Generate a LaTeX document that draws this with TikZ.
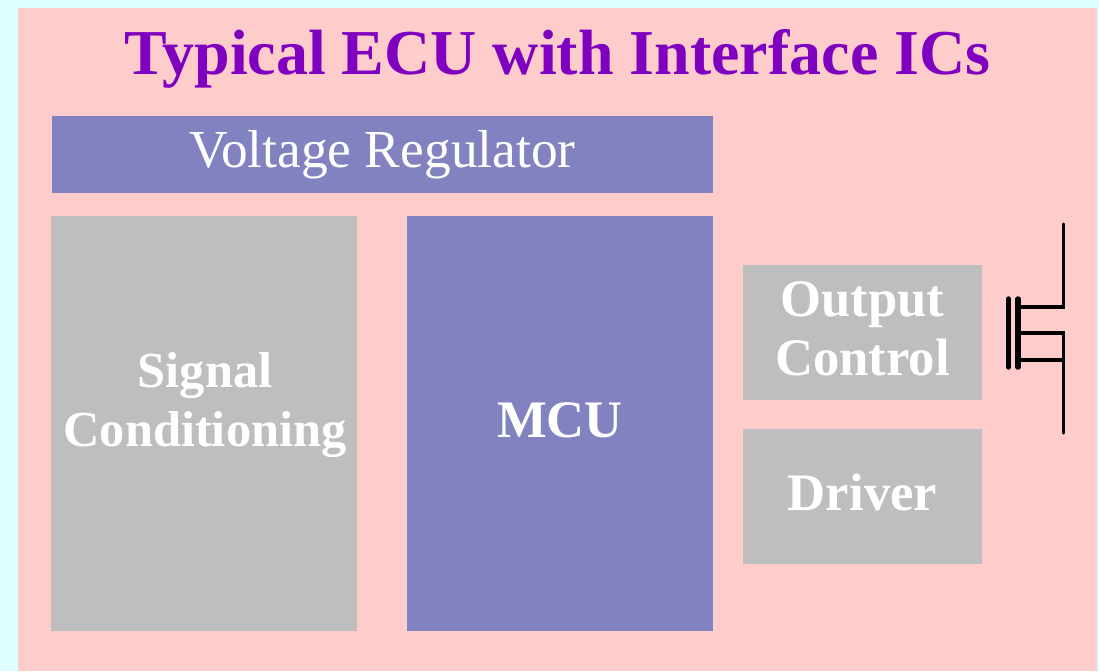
\documentclass[tikz,border=0pt]{standalone}
\usepackage{fontspec}
\setmainfont{Liberation Serif}
\usetikzlibrary{positioning}
\definecolor{pageCyan}{HTML}{DDFFFF}
\definecolor{panelPink}{HTML}{FFCCCC}
\definecolor{blockBlue}{HTML}{8282C0}
\definecolor{blockGray}{HTML}{BEBEBE}
\definecolor{titlePurple}{HTML}{7F00BF}

\begin{document}
\begin{tikzpicture}[
  block/.style={inner sep=0pt, outer sep=0pt},
  blueBlock/.style={block, fill=blockBlue},
  grayBlock/.style={block, fill=blockGray},
  blockLabel/.style={inner sep=0pt, outer sep=0pt, align=center, text=white, font=\fontsize{30}{33.6}\selectfont\bfseries},
  fetLine/.style={line width=0.066cm, draw=black, line cap=round},
  fetBar/.style={line width=0.11cm, draw=black, line cap=round}
]
\useasboundingbox (0,0) rectangle (21.98,-13.42);
\fill[pageCyan] (0,0) rectangle (21.98,-13.42);
\fill[panelPink] (0.36,-0.16) rectangle (21.94,-13.42);

\node[inner sep=0pt, text=titlePurple, font=\fontsize{36.4}{44}\selectfont\bfseries] (title) at (11.15,-1.18) {Typical ECU with Interface ICs};

\node[blueBlock, minimum width=13.22cm, minimum height=1.54cm] (regulator) at (7.65,-3.09) {};
\node[grayBlock, minimum width=6.12cm, minimum height=8.30cm] (signal) at (4.08,-8.47) {};
\node[blueBlock, minimum width=6.12cm, minimum height=8.30cm] (mcu) at (11.20,-8.47) {};
\node[grayBlock, minimum width=4.78cm, minimum height=2.70cm] (output) at (17.25,-6.65) {};
\node[grayBlock, minimum width=4.78cm, minimum height=2.70cm] (driver) at (17.25,-9.93) {};

\node[blockLabel, font=\fontsize{30.4}{34}\selectfont] (regulatorText) at ([yshift=-0.01cm]regulator.center) {Voltage Regulator};
\node[blockLabel, font=\fontsize{28.7}{33.6}\selectfont\bfseries] (signalText) at ([xshift=0.02cm,yshift=0.36cm]signal.center) {Signal\\Conditioning};
\node[blockLabel] (mcuText) at ([yshift=0.06cm]mcu.center) {MCU};
\node[blockLabel] (outputText) at ([yshift=0.07cm]output.center) {Output\\Control};
\node[blockLabel] (driverText) at ([yshift=0.08cm]driver.center) {Driver};

% power transistor
\coordinate (drainTop) at (21.27,-4.48);
\coordinate (drainIn) at (21.27,-6.14);
\coordinate (channelTop) at (20.36,-6.14);
\coordinate (channelMid) at (20.36,-6.66);
\coordinate (channelLow) at (20.36,-7.20);
\coordinate (sourceMid) at (21.27,-6.66);
\coordinate (sourceBottom) at (21.27,-8.66);
\draw[fetLine] (drainTop) -- (drainIn) -- (channelTop);
\draw[fetLine] (channelMid) -- (sourceMid) -- (sourceBottom);
\draw[fetLine] (channelLow) -- (channelLow -| sourceMid);
\draw[fetBar] (20.17,-5.98) -- (20.17,-7.34);
\draw[fetBar] (20.36,-5.98) -- (20.36,-7.34);
\end{tikzpicture}
\end{document}
